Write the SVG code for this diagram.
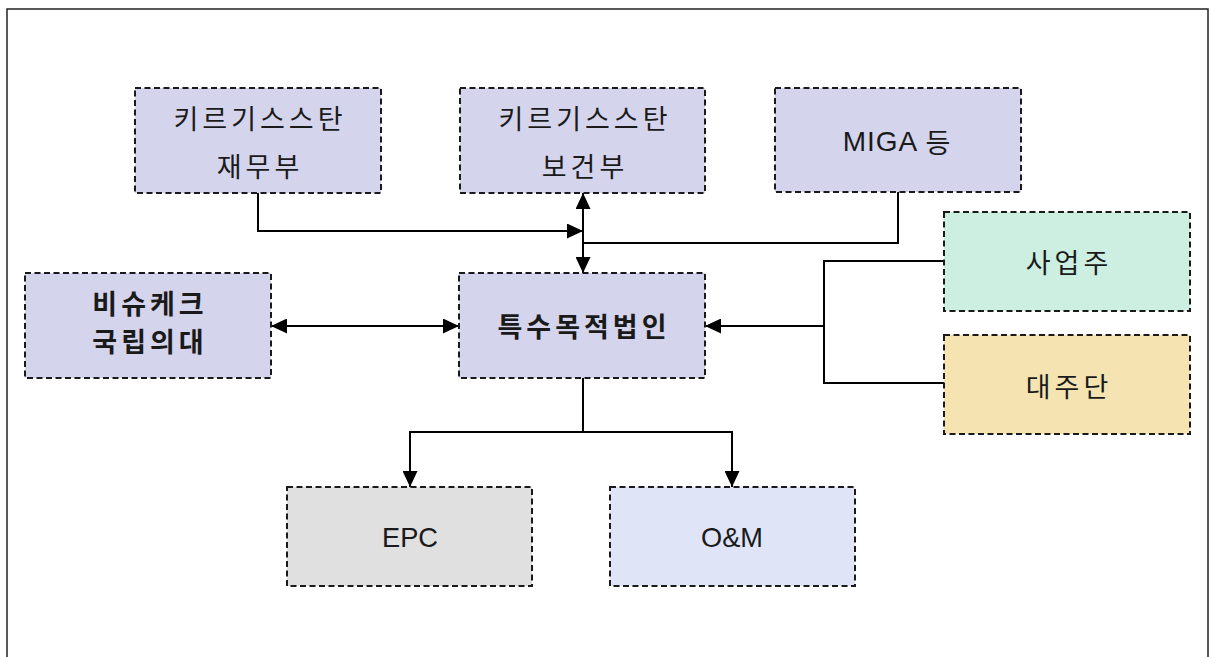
<svg xmlns="http://www.w3.org/2000/svg" width="1209" height="657" viewBox="0 0 1209 657">
<style>
.box{stroke:#1a1a1a;stroke-width:2;stroke-dasharray:6 3.5}
.lav{fill:#d4d4ec}
.mint{fill:#cdefe1}
.tan{fill:#f5e4b2}
.gray{fill:#e0e0e0}
.lblue{fill:#dfe5f6}
.ko{font-family:"Noto Sans CJK KR","Noto Sans",sans-serif;font-size:27px;fill:#1a1a1a;text-anchor:middle;dominant-baseline:central;letter-spacing:4px}
.b{font-weight:bold}
.la{font-family:"Liberation Sans",Arial,sans-serif;font-size:28px;fill:#1a1a1a;text-anchor:middle;dominant-baseline:central}
.conn{fill:none;stroke:#000;stroke-width:2}
</style>
<defs>
<marker id="ah" markerUnits="userSpaceOnUse" markerWidth="16" markerHeight="15" refX="16" refY="7.5" orient="auto-start-reverse">
<path d="M0,0 L16,7.5 L0,15 z" fill="#000"/>
</marker>
</defs>
<path d="M7,657 V9 H1208 V657" fill="none" stroke="#222" stroke-width="1.5"/>
<g id="connectors">
<path class="conn" d="M258,193 V231 H583" marker-end="url(#ah)"/>
<path class="conn" d="M583,193 V273" marker-start="url(#ah)" marker-end="url(#ah)"/>
<path class="conn" d="M898,192 V243 H583" stroke-width="1.6"/>
<path class="conn" d="M271,326 H459" marker-start="url(#ah)" marker-end="url(#ah)"/>
<path class="conn" d="M944,261 H824 V383 H944"/>
<path class="conn" d="M824,326 H705" marker-end="url(#ah)"/>
<path class="conn" d="M583,378 V432 H410 V487" marker-end="url(#ah)"/>
<path class="conn" d="M583,432 H732 V487" marker-end="url(#ah)"/>
</g>
<g id="node-finance">
<rect class="box lav" x="135" y="88" width="246" height="105"/>
<text class="ko" x="260" y="117">키르기스스탄</text>
<text class="ko" x="260" y="165">재무부</text>
</g>
<g id="node-health">
<rect class="box lav" x="460" y="88" width="245" height="105"/>
<text class="ko" x="585" y="117">키르기스스탄</text>
<text class="ko" x="585" y="165">보건부</text>
</g>
<g id="node-miga">
<rect class="box lav" x="775" y="88" width="246" height="104"/>
<text class="la" x="897" y="141" font-size="27" letter-spacing="1">MIGA <tspan font-family="Noto Sans CJK KR,sans-serif" font-size="27">등</tspan></text>
</g>
<g id="node-bishkek">
<rect class="box lav" x="25" y="273" width="246" height="105"/>
<text class="ko b" x="150" y="302">비슈케크</text>
<text class="ko b" x="150" y="340">국립의대</text>
</g>
<g id="node-spv">
<rect class="box lav" x="459" y="273" width="246" height="105"/>
<text class="ko b" x="584" y="325">특수목적법인</text>
</g>
<g id="node-sponsor">
<rect class="box mint" x="944" y="212" width="246" height="99"/>
<text class="ko" x="1069" y="261">사업주</text>
</g>
<g id="node-lenders">
<rect class="box tan" x="944" y="335" width="246" height="99"/>
<text class="ko" x="1069" y="385">대주단</text>
</g>
<g id="node-epc">
<rect class="box gray" x="287" y="487" width="245" height="99"/>
<text class="la" x="410" y="537" textLength="56" lengthAdjust="spacingAndGlyphs">EPC</text>
</g>
<g id="node-om">
<rect class="box lblue" x="610" y="487" width="245" height="99"/>
<text class="la" x="732" y="537" textLength="62" lengthAdjust="spacingAndGlyphs">O&amp;M</text>
</g>
</svg>
